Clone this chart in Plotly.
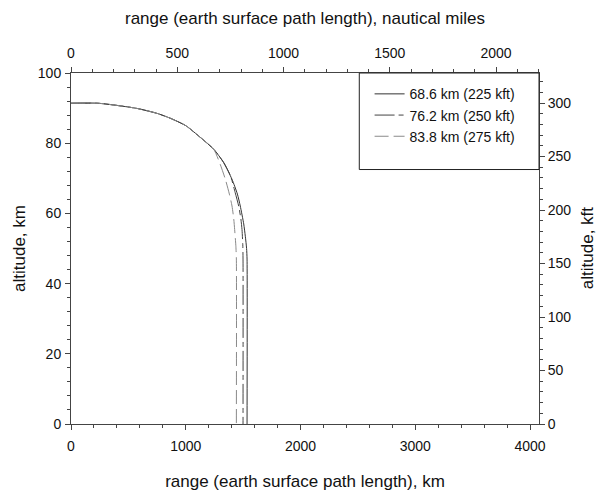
import plotly.graph_objects as go

# Trajectory profiles: ground range (km) vs altitude (km)
range_686 = [0, 230, 370, 576, 750, 866, 1000, 1129, 1243, 1330, 1403, 1450, 1475, 1505, 1519, 1530, 1534, 1534]
alt_686 = [91.4, 91.4, 90.9, 89.9, 88.5, 87.1, 85.0, 81.6, 78.3, 74.5, 69.7, 65.5, 62.1, 57.0, 53.5, 50.0, 47.0, 0.0]

range_762 = [0, 230, 370, 576, 750, 866, 1000, 1129, 1243, 1330, 1390, 1430, 1461, 1480, 1490, 1497, 1499, 1499]
alt_762 = [91.4, 91.4, 90.9, 89.9, 88.5, 87.1, 85.0, 81.6, 78.3, 74.5, 70.7, 66.0, 62.1, 58.5, 55.4, 51.0, 47.0, 0.0]

range_838 = [0, 230, 370, 576, 750, 866, 1000, 1129, 1243, 1300, 1345, 1380, 1403, 1418, 1426, 1437, 1441, 1441]
alt_838 = [91.4, 91.4, 90.9, 89.9, 88.5, 87.1, 85.0, 81.6, 78.3, 74.0, 69.7, 65.5, 62.1, 58.5, 55.4, 50.5, 47.0, 0.0]

series_names = ["68.6 km (225 kft)", "76.2 km (250 kft)", "83.8 km (275 kft)"]

KM_PER_NMI = 1.852
KM_PER_KFT = 0.3048
x_max_km = 4078
y_max_km = 100

font_family = "Liberation Sans, Arial, sans-serif"
axis_color = "#444444"

fig = go.Figure()

styles = [
    dict(color="#333333", dash="solid"),
    dict(color="#444444", dash="20px,4px,5px,4px"),
    dict(color="#8a8a8a", dash="14px,5px"),
]
for name, xs, ys, st in zip(series_names,
                            [range_686, range_762, range_838],
                            [alt_686, alt_762, alt_838], styles):
    fig.add_trace(go.Scatter(
        x=xs, y=ys, mode="lines", name=name,
        line=dict(color=st["color"], dash=st["dash"], width=1, shape="spline", smoothing=0.6),
        hoverinfo="skip",
    ))

# Companion axes: nautical miles on top, kft on the right
fig.add_trace(go.Scatter(x=[None], y=[None], xaxis="x2", yaxis="y2",
                         showlegend=False, hoverinfo="skip"))

tick_font = dict(family=font_family, size=14, color="#111111")
title_font = dict(family=font_family, size=17, color="#111111")

common = dict(
    showgrid=False, zeroline=False, showline=True, linecolor=axis_color, linewidth=1,
    ticks="outside", ticklen=5, tickcolor=axis_color, tickwidth=1, tickfont=tick_font,
    automargin=False,
)

fig.update_layout(
    width=597, height=495,
    margin=dict(l=71, r=58, t=73, b=71),
    paper_bgcolor="white", plot_bgcolor="white",
    font=dict(family=font_family, color="#111111"),
    xaxis=dict(range=[0, x_max_km], dtick=1000, tick0=0, ticklabelstandoff=4,
               minor=dict(dtick=200, ticklen=3, ticks="outside", tickcolor=axis_color),
               title=dict(text="range (earth surface path length), km", font=title_font, standoff=22),
               **common),
    xaxis2=dict(range=[0, x_max_km / KM_PER_NMI], dtick=500, tick0=0, overlaying="x", side="top",
                ticklabelstandoff=3,
                minor=dict(dtick=100, ticklen=3, ticks="outside", tickcolor=axis_color),
                title=dict(text="range (earth surface path length), nautical miles", font=title_font, standoff=16),
                **common),
    yaxis=dict(range=[0, y_max_km], dtick=20, tick0=0, ticklabelstandoff=1,
               minor=dict(dtick=4, ticklen=3, ticks="outside", tickcolor=axis_color),
               title=dict(text="altitude, km", font=title_font, standoff=7),
               **common),
    yaxis2=dict(range=[0, y_max_km / KM_PER_KFT], dtick=50, tick0=0, overlaying="y", side="right",
                minor=dict(dtick=10, ticklen=3, ticks="outside", tickcolor=axis_color),
                **common),
    legend=dict(x=0.638, y=0.985, xanchor="left", yanchor="top",
                bgcolor="rgba(0,0,0,0)", borderwidth=0,
                font=dict(family=font_family, size=14, color="#111111"),
                itemwidth=30, tracegroupgap=0),
    shapes=[dict(type="rect", xref="paper", yref="paper",
                 x0=0.616, x1=1.0, y0=0.725, y1=1.0,
                 line=dict(color="#222222", width=1), fillcolor="rgba(0,0,0,0)", layer="above")],
    # right-hand axis title, set close to the page edge
    annotations=[dict(text="altitude, kft", xref="paper", yref="paper",
                      x=1.104, y=0.5, xanchor="center", yanchor="middle",
                      textangle=-90, showarrow=False, font=title_font)],
)

fig.write_html("out.html")
